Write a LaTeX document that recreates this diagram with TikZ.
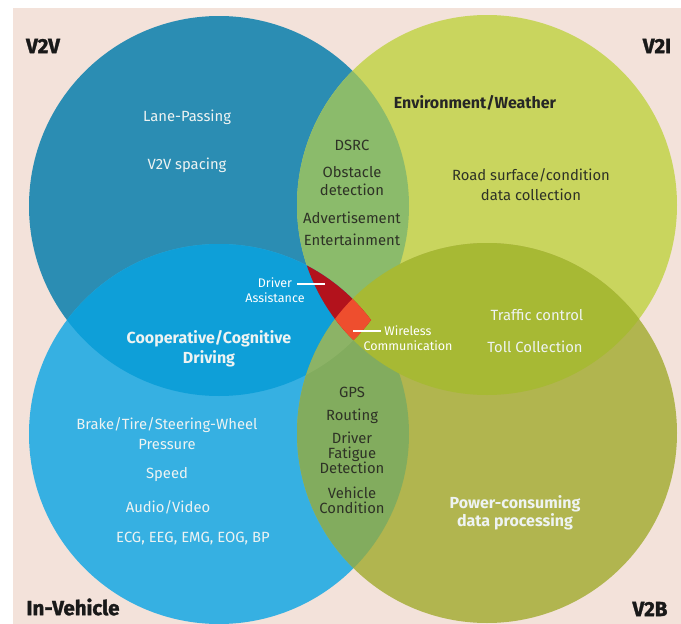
\documentclass[tikz,border=0pt]{standalone}
\usepackage{fontspec}
\setmainfont{Fira Sans}
\newfontfamily\heavyfont[FakeBold=1.5]{Fira Sans}
\usetikzlibrary{calc}

\definecolor{paper}{HTML}{F3E2DA}
\definecolor{cvv}{HTML}{2B8DB3}
\definecolor{cvi}{HTML}{C9D55E}
\definecolor{civ}{HTML}{36B0E2}
\definecolor{cvb}{HTML}{B1B54F}
\definecolor{cvvvi}{HTML}{8BBB6B}
\definecolor{cvviv}{HTML}{0E9FD8}
\definecolor{civvb}{HTML}{82AC5E}
\definecolor{cvvivvb}{HTML}{8CB366}
\definecolor{cvivb}{HTML}{A7B934}
\definecolor{cred}{HTML}{B3121C}
\definecolor{corange}{HTML}{EE4E2E}
\definecolor{lighttext}{HTML}{EEF3F2}
\definecolor{darktext}{HTML}{2E3226}

\newcommand{\vvcircle}{(219,206) circle [radius=190pt]}
\newcommand{\vicircle}{(487,205) circle [radius=190pt]}
\newcommand{\ivcircle}{(219,434) circle [radius=190pt]}
\newcommand{\vbcircle}{(487,433) circle [radius=190pt]}

\begin{document}
\begin{tikzpicture}
  [
    x=1pt, y=-1pt,
    item/.style =
      {align=center, text=lighttext, inner sep=0pt, font=\fontsize{14.8}{20}\selectfont},
    ditem/.style =
      {item, text=darktext},
    hitem/.style =
      {item, font=\bfseries\fontsize{16}{20}\selectfont},
    dhitem/.style =
      {ditem, text=black!85, font=\bfseries\fontsize{16}{20}\selectfont},
    note/.style =
      {item, text=white, font=\fontsize{12.5}{14.5}\selectfont},
    corner/.style =
      {text=black!90, inner sep=0pt, font=\heavyfont\bfseries\fontsize{20.5}{24}\selectfont},
    lead/.style =
      {draw=white, line width=2pt}
  ]

\useasboundingbox (0,0) rectangle (681,624);
\fill[paper] (13,8) rectangle (681,624);
\clip (13,8) rectangle (681,624);

\fill[cvv] \vvcircle;
\fill[cvi] \vicircle;
\fill[civ] \ivcircle;
\fill[cvb] \vbcircle;
\begin{scope} \clip \vvcircle; \fill[cvvvi] \vicircle; \end{scope}
\begin{scope} \clip \vvcircle; \fill[cvviv] \ivcircle; \end{scope}
\begin{scope} \clip \ivcircle; \fill[civvb] \vbcircle; \end{scope}
\begin{scope} \clip \vvcircle; \clip \ivcircle; \fill[cvvivvb] \vbcircle; \end{scope}
\begin{scope} \clip \vicircle; \fill[cvivb] \vbcircle; \end{scope}
\begin{scope}
  \clip \vvcircle; \clip \vicircle;
  \fill[cred] \ivcircle;
  \clip \ivcircle;
  \fill[corange] \vbcircle;
\end{scope}

\node[corner] (v2v) at (43,46) {V2V};
\node[corner] (v2i) at (657,46) {V2I};
\node[corner] (inveh) at (73,607) {In-Vehicle};
\node[corner] (v2b) at (650,609) {V2B};

\node[item] (lane) at (187,117) {Lane-Passing};
\node[item] (spacing) at (187,165) {V2V spacing};

\node[dhitem] (env) at (475,103) {Environment/Weather};
\node[ditem] (road) at (531,185) {Road surface/condition\\data collection};

\node[ditem] (dsrc) at (352,145) {DSRC};
\node[ditem, font=\fontsize{14.8}{18}\selectfont] (obst) at (352,181) {Obstacle\\detection};
\node[ditem] (adv) at (352,218) {Advertisement};
\node[ditem] (ent) at (352,240) {Entertainment};

\node[note] (drv) at (275,290) {Driver\\Assistance};
\coordinate (da1) at (297,284);
\coordinate (da2) at (325,284);
\draw[lead] (da1) -- (da2);

\node[note] (wire) at (408,338) {Wireless\\Communication};
\coordinate (wc1) at (353,331);
\coordinate (wc2) at (381,331);
\draw[lead] (wc1) -- (wc2);

\node[item] (traffic) at (537,315) {Traffic control};
\node[item] (toll) at (535,347) {Toll Collection};

\node[hitem] (coop) at (209,349) {Cooperative/Cognitive\\Driving};
\node[item] (brake) at (167,434) {Brake/Tire/Steering-Wheel\\Pressure};
\node[item] (speed) at (167,475) {Speed};
\node[item] (audio) at (168,507) {Audio/Video};
\node[item] (ecg) at (193,539) {ECG, EEG, EMG, EOG, BP};

\node[ditem] (gps) at (352,392) {GPS};
\node[ditem] (rout) at (352,416) {Routing};
\node[ditem, font=\fontsize{14.8}{15}\selectfont] (fat) at (352,453) {Driver\\Fatigue\\Detection};
\node[ditem, font=\fontsize{14.8}{15}\selectfont] (cond) at (352,500) {Vehicle\\Condition};

\node[hitem, font=\bfseries\fontsize{16}{18}\selectfont] (power) at (515,513) {Power-consuming\\data processing};

\end{tikzpicture}
\end{document}
